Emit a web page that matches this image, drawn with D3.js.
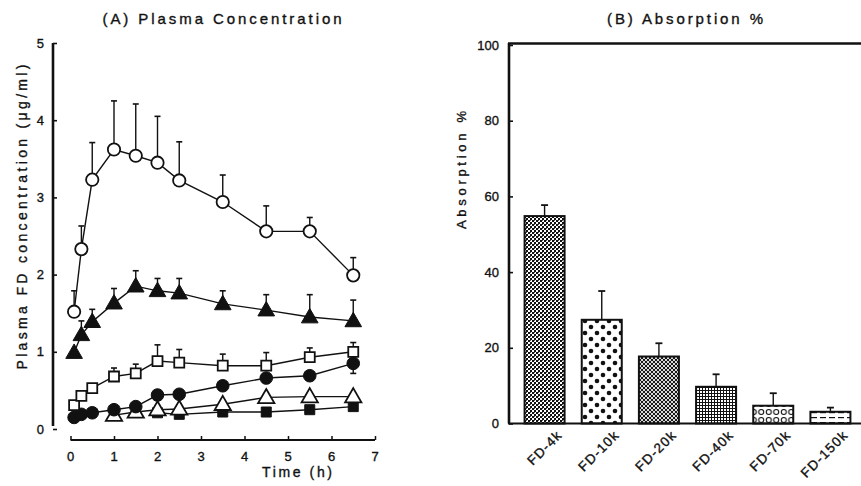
<!DOCTYPE html>
<html><head><meta charset="utf-8">
<script src="https://cdn.jsdelivr.net/npm/d3@7"></script>
<style>
body{margin:0;background:#fff;}
text{font-family:"Liberation Sans",Arial,sans-serif;fill:#111;}
</style></head><body>
<svg id="c" width="861" height="486"></svg>
<script>
// ---------- Data: panel A ----------
const times = [0.083, 0.25, 0.5, 1, 1.5, 2, 2.5, 3.5, 4.5, 5.5, 6.5];
const openCircleVals = [1.52, 2.33, 3.23, 3.62, 3.54, 3.45, 3.22, 2.94, 2.56, 2.56, 1.99];
const openCircleErr  = [0.27, 0.30, 0.48, 0.63, 0.67, 0.60, 0.50, 0.35, 0.33, 0.18, 0.23];
const filledTriVals  = [0.99, 1.22, 1.39, 1.63, 1.85, 1.79, 1.76, 1.62, 1.54, 1.45, 1.40];
const filledTriErr   = [0, 0.18, 0.16, 0.19, 0.20, 0.16, 0.19, 0.17, 0.20, 0.29, 0.27];
const openSquareVals = [0.31, 0.43, 0.53, 0.68, 0.72, 0.88, 0.86, 0.82, 0.82, 0.93, 1.00];
const openSquareErr  = [0, 0, 0, 0.11, 0.12, 0.21, 0.17, 0.15, 0.17, 0.12, 0.12];
const filledCircleVals = [0.15, 0.19, 0.21, 0.25, 0.29, 0.44, 0.45, 0.56, 0.66, 0.69, 0.85];
const filledCircleErr  = [0, 0, 0, 0, 0, 0, 0, 0, 0, 0, 0.13];
const openTriTimes = [1, 1.5, 2, 2.5, 3.5, 4.5, 5.5, 6.5];
const openTriVals  = [0.18, 0.22, 0.25, 0.26, 0.32, 0.41, 0.42, 0.42];
const filledSquareTimes = [2, 2.5, 3.5, 4.5, 5.5, 6.5];
const filledSquareVals  = [0.21, 0.19, 0.22, 0.22, 0.25, 0.29];
const xTicksA = [0, 1, 2, 3, 4, 5, 6, 7];
const yTicksA = [0, 1, 2, 3, 4, 5];

// ---------- Data: panel B ----------
const fdCategories = ["FD-4k", "FD-10k", "FD-20k", "FD-40k", "FD-70k", "FD-150k"];
const absorption   = [54.8, 27.4, 17.7, 9.7, 4.7, 3.1];
const absorptionErr = [2.9, 7.6, 3.5, 3.3, 3.3, 1.1];
const yTicksB = [0, 20, 40, 60, 80, 100];

const svg = d3.select("#c");
const defs = svg.append("defs");

function pat(id, w, h, draw){
  const p = defs.append("pattern").attr("id", id).attr("patternUnits","userSpaceOnUse")
    .attr("width", w).attr("height", h);
  p.append("rect").attr("width", w).attr("height", h).attr("fill", "#fff");
  draw(p);
}
pat("p1", 4, 4, p => {
  p.append("rect").attr("x",0).attr("y",0).attr("width",2).attr("height",2).attr("fill","#111");
  p.append("rect").attr("x",2).attr("y",2).attr("width",2).attr("height",2).attr("fill","#111");
  p.append("rect").attr("x",2).attr("y",0).attr("width",1).attr("height",1).attr("fill","#555");
});
pat("p2", 12, 12, p => {
  p.append("circle").attr("cx",3).attr("cy",3).attr("r",2.3).attr("fill","#111");
  p.append("circle").attr("cx",9).attr("cy",9).attr("r",2.3).attr("fill","#111");
});
pat("p3", 4, 4, p => {
  [[0,0],[4,0],[0,4],[4,4],[2,2]].forEach(([x,y]) =>
    p.append("circle").attr("cx",x).attr("cy",y).attr("r",1.2).attr("fill","#111"));
});
pat("p4", 3, 3, p => {
  p.append("rect").attr("x",0).attr("y",0).attr("width",3).attr("height",1).attr("fill","#111");
  p.append("rect").attr("x",0).attr("y",0).attr("width",1).attr("height",3).attr("fill","#111");
});
pat("p5", 7.5, 8, p => {
  p.append("circle").attr("cx",3.75).attr("cy",4).attr("r",2.5).attr("fill","#fff").attr("stroke","#111").attr("stroke-width",1.1);
});
pat("p6", 9, 5, p => {
  p.append("rect").attr("x",1).attr("y",2).attr("width",6).attr("height",1.2).attr("fill","#111");
});

function label(sel, size){
  return sel.attr("font-size", size).attr("stroke","#111").attr("stroke-width",0.35);
}
function fitted(sel, size, len){
  return label(sel, size).attr("textLength", len).attr("lengthAdjust","spacing");
}

// ---------- Panel A ----------
const xA = d3.scaleLinear().domain([0, 7]).range([70.5, 375]);
const yA = d3.scaleLinear().domain([0, 5]).range([429, 43]);

const gA = svg.append("g");
const yAxA = gA.append("g").attr("transform","translate(53,0)")
  .call(d3.axisRight(yA).tickValues(yTicksA).tickSize(4).tickFormat(""));
yAxA.select(".domain").attr("stroke","#111").attr("stroke-width",2.6).attr("d", `M0,${yA(5)}V${yA(0)-3}`);
yAxA.selectAll(".tick line").attr("stroke","#111").attr("stroke-width",1.6);
label(gA.selectAll(".ylabA").data(yTicksA).join("text")
  .attr("x", 44).attr("y", d => yA(d)).attr("dy","0.35em").attr("text-anchor","end"), 13).text(d => d);
const xAxA = gA.append("g").attr("transform","translate(0,440)")
  .call(d3.axisTop(xA).tickValues(xTicksA).tickSize(4).tickFormat(""));
xAxA.select(".domain").attr("stroke","#111").attr("stroke-width",2).attr("d", `M${xA(0)},0H${xA(7)}`);
xAxA.selectAll(".tick line").attr("stroke","#111").attr("stroke-width",1.5);
label(gA.selectAll(".xlabA").data(xTicksA).join("text")
  .attr("x", d => xA(d)).attr("y", 456).attr("dy","0.35em").attr("text-anchor","middle"), 13).text(d => d);
fitted(gA.append("text").attr("x", 297).attr("y", 472).attr("dy","0.35em").attr("text-anchor","middle"), 14, 70)
  .text("Time (h)");
fitted(gA.append("text").attr("transform","translate(22,217) rotate(-90)").attr("text-anchor","middle")
  .attr("dy","0.35em"), 14, 305).text("Plasma FD concentration (μg/ml)");
fitted(gA.append("text").attr("x", 222).attr("y", 19).attr("dy","0.35em").attr("text-anchor","middle"), 15, 239)
  .text("(A) Plasma Concentration");

const line = d3.line().x(d => xA(d[0])).y(d => yA(d[1]));
function series(ts, vals, errs, symbol, size, filled, errDown){
  const pts = ts.map((t, i) => [t, vals[i], errs ? errs[i] : 0]);
  const g = gA.append("g");
  pts.filter(d => d[2] > 0).forEach(d => {
    const x = xA(d[0]), yTop = yA(d[1] + d[2]);
    const yBot = errDown ? yA(d[1] - d[2]) : yA(d[1]);
    g.append("line").attr("x1", x).attr("x2", x).attr("y1", yTop).attr("y2", yBot)
      .attr("stroke","#111").attr("stroke-width",1.4);
    g.append("line").attr("x1", x-3).attr("x2", x+3).attr("y1", yTop).attr("y2", yTop)
      .attr("stroke","#111").attr("stroke-width",1.6);
    if (errDown) g.append("line").attr("x1", x-3).attr("x2", x+3).attr("y1", yBot).attr("y2", yBot)
      .attr("stroke","#111").attr("stroke-width",1.6);
  });
  g.append("path").datum(pts).attr("d", line).attr("fill","none").attr("stroke","#111").attr("stroke-width",1.4);
  const sym = d3.symbol().type(symbol).size(size);
  g.selectAll("path.m").data(pts).join("path").attr("class","m")
    .attr("transform", d => `translate(${xA(d[0])},${yA(d[1]) + (symbol === d3.symbolTriangle ? 1 : 0)})`)
    .attr("d", sym)
    .attr("fill", filled ? "#111" : "#fff").attr("stroke","#111").attr("stroke-width", filled ? 1 : 1.8);
}
series(filledSquareTimes, filledSquareVals, null, d3.symbolSquare, 100, true);
series(openTriTimes, openTriVals, null, d3.symbolTriangle, 115, false);
series(times, filledCircleVals, filledCircleErr, d3.symbolCircle, 125, true, true);
series(times, openSquareVals, openSquareErr, d3.symbolSquare, 100, false);
series(times, filledTriVals, filledTriErr, d3.symbolTriangle, 120, true);
series(times, openCircleVals, openCircleErr, d3.symbolCircle, 120, false);

// ---------- Panel B ----------
const xB = d3.scaleBand().domain(fdCategories).range([516, 859]).paddingInner(0.3).paddingOuter(0.15);
const yB = d3.scaleLinear().domain([0, 100]).range([423.5, 45]);
const gB = svg.append("g");
const patIds = ["p1","p2","p3","p4","p5","p6"];

gB.selectAll("rect.bar").data(fdCategories).join("rect").attr("class","bar")
  .attr("x", d => xB(d)).attr("width", xB.bandwidth())
  .attr("y", (d, i) => yB(absorption[i])).attr("height", (d, i) => yB(0) - yB(absorption[i]))
  .attr("fill", (d, i) => `url(#${patIds[i]})`).attr("stroke","#111").attr("stroke-width",2);
fdCategories.forEach((c, i) => {
  const x = xB(c) + xB.bandwidth()/2;
  const y0 = yB(absorption[i]), y1 = yB(absorption[i] + absorptionErr[i]);
  gB.append("line").attr("x1",x).attr("x2",x).attr("y1",y0).attr("y2",y1).attr("stroke","#111").attr("stroke-width",1.4);
  gB.append("line").attr("x1",x-3.5).attr("x2",x+3.5).attr("y1",y1).attr("y2",y1).attr("stroke","#111").attr("stroke-width",1.8);
});

const yAxB = gB.append("g").attr("transform","translate(509,0)")
  .call(d3.axisRight(yB).tickValues(yTicksB).tickSize(4).tickFormat(""));
yAxB.select(".domain").attr("stroke","#111").attr("stroke-width",2.6).attr("d", `M0,${yB(100)-2}V${yB(0)}`);
yAxB.selectAll(".tick line").attr("stroke","#111").attr("stroke-width",1.6);
label(gB.selectAll(".ylabB").data(yTicksB).join("text")
  .attr("x", 499).attr("y", d => yB(d)).attr("dy","0.35em").attr("text-anchor","end"), 13).text(d => d);
gB.append("g").attr("transform",`translate(0,${yB(0)})`)
  .call(d3.axisBottom(xB).tickSize(0).tickFormat(""))
  .select(".domain").attr("stroke","#111").attr("stroke-width",2.2).attr("d","M508,0H861");
gB.append("line").attr("x1",508).attr("x2",861).attr("y1",yB(100)-1.5).attr("y2",yB(100)-1.5)
  .attr("stroke","#111").attr("stroke-width",2.4);
label(gB.selectAll(".xlabB").data(fdCategories).join("text")
  .attr("transform", d => `translate(${xB(d) + xB.bandwidth()/2 + 15},${yB(0) + 9}) rotate(-45)`)
  .attr("text-anchor","end").attr("dy","0.35em").attr("letter-spacing",1.2), 13.5).text(d => d);
fitted(gB.append("text").attr("transform","translate(461,170) rotate(-90)").attr("text-anchor","middle")
  .attr("dy","0.35em"), 13, 118).text("Absorption %");
fitted(gB.append("text").attr("x", 685).attr("y", 19).attr("dy","0.35em").attr("text-anchor","middle"), 15, 156)
  .text("(B) Absorption %");
</script></body></html>
